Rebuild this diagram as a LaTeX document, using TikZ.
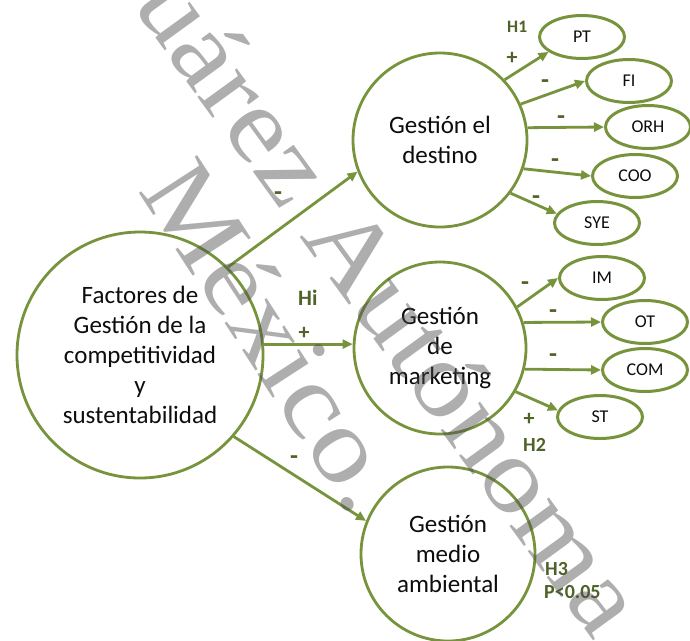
\documentclass[tikz,border=0pt]{standalone}
\usepackage{fontspec}
\setmainfont{Carlito}
\newfontfamily\wmfont{Liberation Serif}
\usetikzlibrary{arrows.meta,shapes.geometric}
\definecolor{olive}{RGB}{119,147,60}
\definecolor{darkolive}{RGB}{79,98,40}
\definecolor{inktext}{RGB}{13,13,13}

\begin{document}
\begin{tikzpicture}[x=1pt,y=-1pt,
  bigcirc/.style={circle, draw=olive, line width=2.8pt, fill=white, align=center,
    text=inktext, font=\fontsize{25}{30}\selectfont, inner sep=0pt},
  oval/.style={ellipse, draw=olive, line width=3pt, fill=white, text=inktext,
    minimum width=85pt, minimum height=43pt, inner sep=0pt,
    font=\fontsize{18}{20}\selectfont},
  link/.style={draw=olive, line width=2.8pt, -{Triangle[length=10pt,width=9pt]}},
  sign/.style={text=darkolive, font=\fontsize{22}{24}\selectfont\bfseries, inner sep=0pt},
  minus/.style={text=darkolive, font=\fontsize{26}{28}\selectfont\bfseries, inner sep=0pt, anchor=base},
  hyp/.style={text=darkolive, font=\fontsize{20}{23}\selectfont\bfseries, inner sep=0pt, anchor=base west},
  wm/.style={text=black!70, text opacity=0.45, font=\wmfont\fontsize{106}{120}\selectfont, inner sep=0pt}
]
\useasboundingbox (0,0) rectangle (690,640);
\fill[white] (0,0) rectangle (690,640);
\clip (0,0) rectangle (690,640);

% main constructs
\node[bigcirc, minimum size=246pt] (fac) at (140,355)
  {Factores de\\Gestión de la\\competitividad\\y\\sustentabilidad};
\node[bigcirc, minimum size=174pt] (des) at (440,140) {Gestión el\\destino};
\node[bigcirc, minimum size=172pt] (mkt) at (440,348) {Gestión\\de\\marketing};
\node[bigcirc, minimum size=174pt] (amb) at (448,554) {Gestión\\medio\\ambiental};

% indicators of destination management
\node[oval] (pt)  at (582,37)  {PT};
\node[oval] (fi)  at (629,81)  {FI};
\node[oval] (orh) at (648,127) {ORH};
\node[oval] (coo) at (635,176) {COO};
\node[oval] (sye) at (597,223) {SYE};

% indicators of marketing management
\node[oval] (im)  at (602,278) {IM};
\node[oval] (ot)  at (645,322) {OT};
\node[oval] (com) at (645,370) {COM};
\node[oval] (st)  at (600,417) {ST};

% paths from the competitiveness factors
\draw[link] (fac.45) -- (des.201);
\draw[link] (fac.5) -- (fac.5 -| mkt.west);
\draw[link] (fac.-41) -- (amb.158);

% paths to the indicators
\draw[link] (des.43) -- (pt.204);
\draw[link] (des.24) -- (fi.west);
\draw[link] (des.8.5) -- (orh.west);
\draw[link] (des.-19) -- (coo.west);
\draw[link] (des.-37) -- (sye.167);
\draw[link] (mkt.28) -- (im.west);
\draw[link] (mkt.17) -- (ot.west);
\draw[link] (mkt.-14) -- (com.west);
\draw[link] (mkt.-30) -- (st.171);

% signs and hypotheses
\node[minus] (s1) at (278,200) {-};
\node[text=darkolive, font=\fontsize{22}{24}\selectfont\bfseries, inner sep=0pt, anchor=base west] (hi) at (298,305) {Hi};
\node[sign] (s2) at (304,333) {+};
\node[minus] (s3) at (294,464) {-};
\node[text=darkolive, font=\fontsize{17.5}{20}\selectfont\bfseries, inner sep=0pt, anchor=base west] (h1) at (507,32) {H1};
\node[sign] (s4) at (512,58) {+};
\node[minus] (s5) at (545,88) {-};
\node[minus] (s6) at (561,124) {-};
\node[minus] (s7) at (555,167) {-};
\node[minus] (s8) at (536,204) {-};
\node[minus] (s9) at (525,290) {-};
\node[minus] (s10) at (553,318) {-};
\node[minus] (s11) at (553,362) {-};
\node[sign] (s12) at (529,419) {+};
\node[hyp] (h2) at (523,451) {H2};
\node[hyp] (h3) at (545,575) {H3};
\node[hyp] (pv) at (544,598) {P<0.05};

% watermark
\node[wm, rotate=-54, xscale=1.12] (wma) at (392,302) {uárez Autónoma};
\node[wm, rotate=-57, xscale=1.12] (wmb) at (275,335) {México.};
\end{tikzpicture}
\end{document}
